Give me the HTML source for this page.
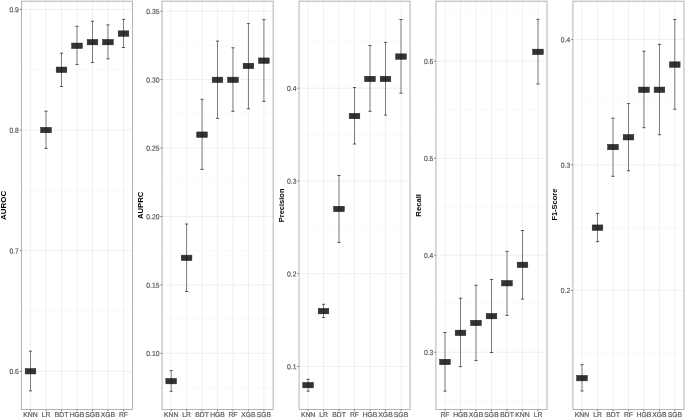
<!DOCTYPE html>
<html><head><meta charset="utf-8"><title>Model metrics</title>
<style>
html,body{margin:0;padding:0;background:#fff;}
body{width:685px;height:418px;overflow:hidden;}
svg{display:block;will-change:transform;}
.lb{text-rendering:geometricPrecision;font-family:"Liberation Sans",sans-serif;font-size:7.3px;fill:#5a5a5a;stroke:#5a5a5a;stroke-width:0.2px;}
.tt{font-family:"Liberation Sans",sans-serif;font-size:7.9px;font-weight:bold;fill:#000;}
</style></head>
<body>
<svg width="685" height="418" viewBox="0 0 685 418">
<rect width="685" height="418" fill="#fff"/>
<g>
<line x1="21.5" y1="310.98" x2="132.5" y2="310.98" stroke="#f2f2f2" stroke-width="0.5"/>
<line x1="21.5" y1="190.35" x2="132.5" y2="190.35" stroke="#f2f2f2" stroke-width="0.5"/>
<line x1="21.5" y1="69.72" x2="132.5" y2="69.72" stroke="#f2f2f2" stroke-width="0.5"/>
<line x1="21.5" y1="371.3" x2="132.5" y2="371.3" stroke="#e9e9e9" stroke-width="0.7"/>
<line x1="21.5" y1="250.67" x2="132.5" y2="250.67" stroke="#e9e9e9" stroke-width="0.7"/>
<line x1="21.5" y1="130.03" x2="132.5" y2="130.03" stroke="#e9e9e9" stroke-width="0.7"/>
<line x1="21.5" y1="9.4" x2="132.5" y2="9.4" stroke="#e9e9e9" stroke-width="0.7"/>
<line x1="30.5" y1="1.2" x2="30.5" y2="409.5" stroke="#e9e9e9" stroke-width="0.7"/>
<line x1="46" y1="1.2" x2="46" y2="409.5" stroke="#e9e9e9" stroke-width="0.7"/>
<line x1="61.5" y1="1.2" x2="61.5" y2="409.5" stroke="#e9e9e9" stroke-width="0.7"/>
<line x1="77" y1="1.2" x2="77" y2="409.5" stroke="#e9e9e9" stroke-width="0.7"/>
<line x1="92.5" y1="1.2" x2="92.5" y2="409.5" stroke="#e9e9e9" stroke-width="0.7"/>
<line x1="107.95" y1="1.2" x2="107.95" y2="409.5" stroke="#e9e9e9" stroke-width="0.7"/>
<line x1="123.5" y1="1.2" x2="123.5" y2="409.5" stroke="#e9e9e9" stroke-width="0.7"/>
<line x1="30.5" y1="351.2" x2="30.5" y2="390.9" stroke="#1a1a1a" stroke-width="0.55"/>
<line x1="28.9" y1="351.2" x2="32.1" y2="351.2" stroke="#1a1a1a" stroke-width="0.7"/>
<line x1="28.9" y1="390.9" x2="32.1" y2="390.9" stroke="#1a1a1a" stroke-width="0.7"/>
<rect x="25.2" y="368.55" width="10.6" height="5.4" fill="#333333" stroke="#1f1f1f" stroke-width="0.5"/>
<line x1="30.5" y1="368.55" x2="30.5" y2="373.95" stroke="#111" stroke-width="0.55"/>
<line x1="46" y1="111.2" x2="46" y2="148.4" stroke="#1a1a1a" stroke-width="0.55"/>
<line x1="44.4" y1="111.2" x2="47.6" y2="111.2" stroke="#1a1a1a" stroke-width="0.7"/>
<line x1="44.4" y1="148.4" x2="47.6" y2="148.4" stroke="#1a1a1a" stroke-width="0.7"/>
<rect x="40.7" y="127.35" width="10.6" height="5.4" fill="#333333" stroke="#1f1f1f" stroke-width="0.5"/>
<line x1="46" y1="127.35" x2="46" y2="132.75" stroke="#111" stroke-width="0.55"/>
<line x1="61.5" y1="53.2" x2="61.5" y2="86.5" stroke="#1a1a1a" stroke-width="0.55"/>
<line x1="59.9" y1="53.2" x2="63.1" y2="53.2" stroke="#1a1a1a" stroke-width="0.7"/>
<line x1="59.9" y1="86.5" x2="63.1" y2="86.5" stroke="#1a1a1a" stroke-width="0.7"/>
<rect x="56.2" y="67.05" width="10.6" height="5.4" fill="#333333" stroke="#1f1f1f" stroke-width="0.5"/>
<line x1="61.5" y1="67.05" x2="61.5" y2="72.45" stroke="#111" stroke-width="0.55"/>
<line x1="77" y1="26.3" x2="77" y2="64.6" stroke="#1a1a1a" stroke-width="0.55"/>
<line x1="75.4" y1="26.3" x2="78.6" y2="26.3" stroke="#1a1a1a" stroke-width="0.7"/>
<line x1="75.4" y1="64.6" x2="78.6" y2="64.6" stroke="#1a1a1a" stroke-width="0.7"/>
<rect x="71.7" y="43.05" width="10.6" height="5.4" fill="#333333" stroke="#1f1f1f" stroke-width="0.5"/>
<line x1="77" y1="43.05" x2="77" y2="48.45" stroke="#111" stroke-width="0.55"/>
<line x1="92.5" y1="21.2" x2="92.5" y2="62.5" stroke="#1a1a1a" stroke-width="0.55"/>
<line x1="90.9" y1="21.2" x2="94.1" y2="21.2" stroke="#1a1a1a" stroke-width="0.7"/>
<line x1="90.9" y1="62.5" x2="94.1" y2="62.5" stroke="#1a1a1a" stroke-width="0.7"/>
<rect x="87.2" y="39.45" width="10.6" height="5.4" fill="#333333" stroke="#1f1f1f" stroke-width="0.5"/>
<line x1="92.5" y1="39.45" x2="92.5" y2="44.85" stroke="#111" stroke-width="0.55"/>
<line x1="107.95" y1="24.9" x2="107.95" y2="58.9" stroke="#1a1a1a" stroke-width="0.55"/>
<line x1="106.35" y1="24.9" x2="109.55" y2="24.9" stroke="#1a1a1a" stroke-width="0.7"/>
<line x1="106.35" y1="58.9" x2="109.55" y2="58.9" stroke="#1a1a1a" stroke-width="0.7"/>
<rect x="102.65" y="39.45" width="10.6" height="5.4" fill="#333333" stroke="#1f1f1f" stroke-width="0.5"/>
<line x1="107.95" y1="39.45" x2="107.95" y2="44.85" stroke="#111" stroke-width="0.55"/>
<line x1="123.5" y1="19.4" x2="123.5" y2="47.5" stroke="#1a1a1a" stroke-width="0.55"/>
<line x1="121.9" y1="19.4" x2="125.1" y2="19.4" stroke="#1a1a1a" stroke-width="0.7"/>
<line x1="121.9" y1="47.5" x2="125.1" y2="47.5" stroke="#1a1a1a" stroke-width="0.7"/>
<rect x="118.2" y="30.85" width="10.6" height="5.4" fill="#333333" stroke="#1f1f1f" stroke-width="0.5"/>
<line x1="123.5" y1="30.85" x2="123.5" y2="36.25" stroke="#111" stroke-width="0.55"/>
<rect x="21.5" y="1.2" width="111" height="408.3" fill="none" stroke="#b3b3b3" stroke-width="1.0"/>
<line x1="19.7" y1="371.3" x2="21.5" y2="371.3" stroke="#555555" stroke-width="0.7"/>
<text transform="translate(18.9 374.1) scale(0.93 1) rotate(0.05)" text-anchor="end" class="lb">0.6</text>
<line x1="19.7" y1="250.67" x2="21.5" y2="250.67" stroke="#555555" stroke-width="0.7"/>
<text transform="translate(18.9 253.47) scale(0.93 1) rotate(0.05)" text-anchor="end" class="lb">0.7</text>
<line x1="19.7" y1="130.03" x2="21.5" y2="130.03" stroke="#555555" stroke-width="0.7"/>
<text transform="translate(18.9 132.83) scale(0.93 1) rotate(0.05)" text-anchor="end" class="lb">0.8</text>
<line x1="19.7" y1="9.4" x2="21.5" y2="9.4" stroke="#555555" stroke-width="0.7"/>
<text transform="translate(18.9 12.2) scale(0.93 1) rotate(0.05)" text-anchor="end" class="lb">0.9</text>
<line x1="30.5" y1="409.5" x2="30.5" y2="411.3" stroke="#555555" stroke-width="0.7"/>
<text transform="translate(30.5 416.9) scale(0.97 1) rotate(0.05)" text-anchor="middle" class="lb" style="font-size:7.0px">KNN</text>
<line x1="46" y1="409.5" x2="46" y2="411.3" stroke="#555555" stroke-width="0.7"/>
<text transform="translate(46 416.9) scale(0.97 1) rotate(0.05)" text-anchor="middle" class="lb" style="font-size:7.0px">LR</text>
<line x1="61.5" y1="409.5" x2="61.5" y2="411.3" stroke="#555555" stroke-width="0.7"/>
<text transform="translate(61.5 416.9) scale(0.97 1) rotate(0.05)" text-anchor="middle" class="lb" style="font-size:7.0px">BDT</text>
<line x1="77" y1="409.5" x2="77" y2="411.3" stroke="#555555" stroke-width="0.7"/>
<text transform="translate(77 416.9) scale(0.97 1) rotate(0.05)" text-anchor="middle" class="lb" style="font-size:7.0px">HGB</text>
<line x1="92.5" y1="409.5" x2="92.5" y2="411.3" stroke="#555555" stroke-width="0.7"/>
<text transform="translate(92.5 416.9) scale(0.97 1) rotate(0.05)" text-anchor="middle" class="lb" style="font-size:7.0px">SGB</text>
<line x1="107.95" y1="409.5" x2="107.95" y2="411.3" stroke="#555555" stroke-width="0.7"/>
<text transform="translate(107.95 416.9) scale(0.97 1) rotate(0.05)" text-anchor="middle" class="lb" style="font-size:7.0px">XGB</text>
<line x1="123.5" y1="409.5" x2="123.5" y2="411.3" stroke="#555555" stroke-width="0.7"/>
<text transform="translate(123.5 416.9) scale(0.97 1) rotate(0.05)" text-anchor="middle" class="lb" style="font-size:7.0px">RF</text>
<text transform="translate(5.8 205.35) rotate(-90)" text-anchor="middle" class="tt" textLength="29.1" lengthAdjust="spacingAndGlyphs">AUROC</text>
<line x1="162.1" y1="387.51" x2="273.2" y2="387.51" stroke="#f2f2f2" stroke-width="0.5"/>
<line x1="162.1" y1="319.09" x2="273.2" y2="319.09" stroke="#f2f2f2" stroke-width="0.5"/>
<line x1="162.1" y1="250.67" x2="273.2" y2="250.67" stroke="#f2f2f2" stroke-width="0.5"/>
<line x1="162.1" y1="182.25" x2="273.2" y2="182.25" stroke="#f2f2f2" stroke-width="0.5"/>
<line x1="162.1" y1="113.83" x2="273.2" y2="113.83" stroke="#f2f2f2" stroke-width="0.5"/>
<line x1="162.1" y1="45.41" x2="273.2" y2="45.41" stroke="#f2f2f2" stroke-width="0.5"/>
<line x1="162.1" y1="353.3" x2="273.2" y2="353.3" stroke="#e9e9e9" stroke-width="0.7"/>
<line x1="162.1" y1="284.88" x2="273.2" y2="284.88" stroke="#e9e9e9" stroke-width="0.7"/>
<line x1="162.1" y1="216.46" x2="273.2" y2="216.46" stroke="#e9e9e9" stroke-width="0.7"/>
<line x1="162.1" y1="148.04" x2="273.2" y2="148.04" stroke="#e9e9e9" stroke-width="0.7"/>
<line x1="162.1" y1="79.62" x2="273.2" y2="79.62" stroke="#e9e9e9" stroke-width="0.7"/>
<line x1="162.1" y1="11.2" x2="273.2" y2="11.2" stroke="#e9e9e9" stroke-width="0.7"/>
<line x1="171.15" y1="1.2" x2="171.15" y2="409.5" stroke="#e9e9e9" stroke-width="0.7"/>
<line x1="186.6" y1="1.2" x2="186.6" y2="409.5" stroke="#e9e9e9" stroke-width="0.7"/>
<line x1="202.05" y1="1.2" x2="202.05" y2="409.5" stroke="#e9e9e9" stroke-width="0.7"/>
<line x1="217.5" y1="1.2" x2="217.5" y2="409.5" stroke="#e9e9e9" stroke-width="0.7"/>
<line x1="232.95" y1="1.2" x2="232.95" y2="409.5" stroke="#e9e9e9" stroke-width="0.7"/>
<line x1="248.45" y1="1.2" x2="248.45" y2="409.5" stroke="#e9e9e9" stroke-width="0.7"/>
<line x1="263.9" y1="1.2" x2="263.9" y2="409.5" stroke="#e9e9e9" stroke-width="0.7"/>
<line x1="171.15" y1="370.6" x2="171.15" y2="391.3" stroke="#1a1a1a" stroke-width="0.55"/>
<line x1="169.55" y1="370.6" x2="172.75" y2="370.6" stroke="#1a1a1a" stroke-width="0.7"/>
<line x1="169.55" y1="391.3" x2="172.75" y2="391.3" stroke="#1a1a1a" stroke-width="0.7"/>
<rect x="165.85" y="378.45" width="10.6" height="5.4" fill="#333333" stroke="#1f1f1f" stroke-width="0.5"/>
<line x1="171.15" y1="378.45" x2="171.15" y2="383.85" stroke="#111" stroke-width="0.55"/>
<line x1="186.6" y1="224" x2="186.6" y2="291.5" stroke="#1a1a1a" stroke-width="0.55"/>
<line x1="185" y1="224" x2="188.2" y2="224" stroke="#1a1a1a" stroke-width="0.7"/>
<line x1="185" y1="291.5" x2="188.2" y2="291.5" stroke="#1a1a1a" stroke-width="0.7"/>
<rect x="181.3" y="255.15" width="10.6" height="5.4" fill="#333333" stroke="#1f1f1f" stroke-width="0.5"/>
<line x1="186.6" y1="255.15" x2="186.6" y2="260.55" stroke="#111" stroke-width="0.55"/>
<line x1="202.05" y1="99.3" x2="202.05" y2="169.4" stroke="#1a1a1a" stroke-width="0.55"/>
<line x1="200.45" y1="99.3" x2="203.65" y2="99.3" stroke="#1a1a1a" stroke-width="0.7"/>
<line x1="200.45" y1="169.4" x2="203.65" y2="169.4" stroke="#1a1a1a" stroke-width="0.7"/>
<rect x="196.75" y="131.95" width="10.6" height="5.4" fill="#333333" stroke="#1f1f1f" stroke-width="0.5"/>
<line x1="202.05" y1="131.95" x2="202.05" y2="137.35" stroke="#111" stroke-width="0.55"/>
<line x1="217.5" y1="41.1" x2="217.5" y2="118.4" stroke="#1a1a1a" stroke-width="0.55"/>
<line x1="215.9" y1="41.1" x2="219.1" y2="41.1" stroke="#1a1a1a" stroke-width="0.7"/>
<line x1="215.9" y1="118.4" x2="219.1" y2="118.4" stroke="#1a1a1a" stroke-width="0.7"/>
<rect x="212.2" y="77.15" width="10.6" height="5.4" fill="#333333" stroke="#1f1f1f" stroke-width="0.5"/>
<line x1="217.5" y1="77.15" x2="217.5" y2="82.55" stroke="#111" stroke-width="0.55"/>
<line x1="232.95" y1="47.8" x2="232.95" y2="111.3" stroke="#1a1a1a" stroke-width="0.55"/>
<line x1="231.35" y1="47.8" x2="234.55" y2="47.8" stroke="#1a1a1a" stroke-width="0.7"/>
<line x1="231.35" y1="111.3" x2="234.55" y2="111.3" stroke="#1a1a1a" stroke-width="0.7"/>
<rect x="227.65" y="77.15" width="10.6" height="5.4" fill="#333333" stroke="#1f1f1f" stroke-width="0.5"/>
<line x1="232.95" y1="77.15" x2="232.95" y2="82.55" stroke="#111" stroke-width="0.55"/>
<line x1="248.45" y1="23.6" x2="248.45" y2="108.8" stroke="#1a1a1a" stroke-width="0.55"/>
<line x1="246.85" y1="23.6" x2="250.05" y2="23.6" stroke="#1a1a1a" stroke-width="0.7"/>
<line x1="246.85" y1="108.8" x2="250.05" y2="108.8" stroke="#1a1a1a" stroke-width="0.7"/>
<rect x="243.15" y="63.25" width="10.6" height="5.4" fill="#333333" stroke="#1f1f1f" stroke-width="0.5"/>
<line x1="248.45" y1="63.25" x2="248.45" y2="68.65" stroke="#111" stroke-width="0.55"/>
<line x1="263.9" y1="19.6" x2="263.9" y2="101.4" stroke="#1a1a1a" stroke-width="0.55"/>
<line x1="262.3" y1="19.6" x2="265.5" y2="19.6" stroke="#1a1a1a" stroke-width="0.7"/>
<line x1="262.3" y1="101.4" x2="265.5" y2="101.4" stroke="#1a1a1a" stroke-width="0.7"/>
<rect x="258.6" y="57.95" width="10.6" height="5.4" fill="#333333" stroke="#1f1f1f" stroke-width="0.5"/>
<line x1="263.9" y1="57.95" x2="263.9" y2="63.35" stroke="#111" stroke-width="0.55"/>
<rect x="162.1" y="1.2" width="111.1" height="408.3" fill="none" stroke="#b3b3b3" stroke-width="1.0"/>
<line x1="160.3" y1="353.3" x2="162.1" y2="353.3" stroke="#555555" stroke-width="0.7"/>
<text transform="translate(159.5 356.1) scale(0.93 1) rotate(0.05)" text-anchor="end" class="lb">0.10</text>
<line x1="160.3" y1="284.88" x2="162.1" y2="284.88" stroke="#555555" stroke-width="0.7"/>
<text transform="translate(159.5 287.68) scale(0.93 1) rotate(0.05)" text-anchor="end" class="lb">0.15</text>
<line x1="160.3" y1="216.46" x2="162.1" y2="216.46" stroke="#555555" stroke-width="0.7"/>
<text transform="translate(159.5 219.26) scale(0.93 1) rotate(0.05)" text-anchor="end" class="lb">0.20</text>
<line x1="160.3" y1="148.04" x2="162.1" y2="148.04" stroke="#555555" stroke-width="0.7"/>
<text transform="translate(159.5 150.84) scale(0.93 1) rotate(0.05)" text-anchor="end" class="lb">0.25</text>
<line x1="160.3" y1="79.62" x2="162.1" y2="79.62" stroke="#555555" stroke-width="0.7"/>
<text transform="translate(159.5 82.42) scale(0.93 1) rotate(0.05)" text-anchor="end" class="lb">0.30</text>
<line x1="160.3" y1="11.2" x2="162.1" y2="11.2" stroke="#555555" stroke-width="0.7"/>
<text transform="translate(159.5 14) scale(0.93 1) rotate(0.05)" text-anchor="end" class="lb">0.35</text>
<line x1="171.15" y1="409.5" x2="171.15" y2="411.3" stroke="#555555" stroke-width="0.7"/>
<text transform="translate(171.15 416.9) scale(0.97 1) rotate(0.05)" text-anchor="middle" class="lb" style="font-size:7.0px">KNN</text>
<line x1="186.6" y1="409.5" x2="186.6" y2="411.3" stroke="#555555" stroke-width="0.7"/>
<text transform="translate(186.6 416.9) scale(0.97 1) rotate(0.05)" text-anchor="middle" class="lb" style="font-size:7.0px">LR</text>
<line x1="202.05" y1="409.5" x2="202.05" y2="411.3" stroke="#555555" stroke-width="0.7"/>
<text transform="translate(202.05 416.9) scale(0.97 1) rotate(0.05)" text-anchor="middle" class="lb" style="font-size:7.0px">BDT</text>
<line x1="217.5" y1="409.5" x2="217.5" y2="411.3" stroke="#555555" stroke-width="0.7"/>
<text transform="translate(217.5 416.9) scale(0.97 1) rotate(0.05)" text-anchor="middle" class="lb" style="font-size:7.0px">HGB</text>
<line x1="232.95" y1="409.5" x2="232.95" y2="411.3" stroke="#555555" stroke-width="0.7"/>
<text transform="translate(232.95 416.9) scale(0.97 1) rotate(0.05)" text-anchor="middle" class="lb" style="font-size:7.0px">RF</text>
<line x1="248.45" y1="409.5" x2="248.45" y2="411.3" stroke="#555555" stroke-width="0.7"/>
<text transform="translate(248.45 416.9) scale(0.97 1) rotate(0.05)" text-anchor="middle" class="lb" style="font-size:7.0px">XGB</text>
<line x1="263.9" y1="409.5" x2="263.9" y2="411.3" stroke="#555555" stroke-width="0.7"/>
<text transform="translate(263.9 416.9) scale(0.97 1) rotate(0.05)" text-anchor="middle" class="lb" style="font-size:7.0px">SGB</text>
<text transform="translate(143.4 205.35) rotate(-90)" text-anchor="middle" class="tt" textLength="27.4" lengthAdjust="spacingAndGlyphs">AUPRC</text>
<line x1="299.07" y1="320.12" x2="410.06" y2="320.12" stroke="#f2f2f2" stroke-width="0.5"/>
<line x1="299.07" y1="227.35" x2="410.06" y2="227.35" stroke="#f2f2f2" stroke-width="0.5"/>
<line x1="299.07" y1="134.58" x2="410.06" y2="134.58" stroke="#f2f2f2" stroke-width="0.5"/>
<line x1="299.07" y1="41.82" x2="410.06" y2="41.82" stroke="#f2f2f2" stroke-width="0.5"/>
<line x1="299.07" y1="366.5" x2="410.06" y2="366.5" stroke="#e9e9e9" stroke-width="0.7"/>
<line x1="299.07" y1="273.73" x2="410.06" y2="273.73" stroke="#e9e9e9" stroke-width="0.7"/>
<line x1="299.07" y1="180.97" x2="410.06" y2="180.97" stroke="#e9e9e9" stroke-width="0.7"/>
<line x1="299.07" y1="88.2" x2="410.06" y2="88.2" stroke="#e9e9e9" stroke-width="0.7"/>
<line x1="308.1" y1="1.2" x2="308.1" y2="409.5" stroke="#e9e9e9" stroke-width="0.7"/>
<line x1="323.5" y1="1.2" x2="323.5" y2="409.5" stroke="#e9e9e9" stroke-width="0.7"/>
<line x1="339" y1="1.2" x2="339" y2="409.5" stroke="#e9e9e9" stroke-width="0.7"/>
<line x1="354.5" y1="1.2" x2="354.5" y2="409.5" stroke="#e9e9e9" stroke-width="0.7"/>
<line x1="370" y1="1.2" x2="370" y2="409.5" stroke="#e9e9e9" stroke-width="0.7"/>
<line x1="385.5" y1="1.2" x2="385.5" y2="409.5" stroke="#e9e9e9" stroke-width="0.7"/>
<line x1="401" y1="1.2" x2="401" y2="409.5" stroke="#e9e9e9" stroke-width="0.7"/>
<line x1="308.1" y1="379.3" x2="308.1" y2="391.2" stroke="#1a1a1a" stroke-width="0.55"/>
<line x1="306.5" y1="379.3" x2="309.7" y2="379.3" stroke="#1a1a1a" stroke-width="0.7"/>
<line x1="306.5" y1="391.2" x2="309.7" y2="391.2" stroke="#1a1a1a" stroke-width="0.7"/>
<rect x="302.8" y="382.45" width="10.6" height="5.4" fill="#333333" stroke="#1f1f1f" stroke-width="0.5"/>
<line x1="308.1" y1="382.45" x2="308.1" y2="387.85" stroke="#111" stroke-width="0.55"/>
<line x1="323.5" y1="304.3" x2="323.5" y2="317.5" stroke="#1a1a1a" stroke-width="0.55"/>
<line x1="321.9" y1="304.3" x2="325.1" y2="304.3" stroke="#1a1a1a" stroke-width="0.7"/>
<line x1="321.9" y1="317.5" x2="325.1" y2="317.5" stroke="#1a1a1a" stroke-width="0.7"/>
<rect x="318.2" y="308.45" width="10.6" height="5.4" fill="#333333" stroke="#1f1f1f" stroke-width="0.5"/>
<line x1="323.5" y1="308.45" x2="323.5" y2="313.85" stroke="#111" stroke-width="0.55"/>
<line x1="339" y1="175.5" x2="339" y2="242.5" stroke="#1a1a1a" stroke-width="0.55"/>
<line x1="337.4" y1="175.5" x2="340.6" y2="175.5" stroke="#1a1a1a" stroke-width="0.7"/>
<line x1="337.4" y1="242.5" x2="340.6" y2="242.5" stroke="#1a1a1a" stroke-width="0.7"/>
<rect x="333.7" y="206.25" width="10.6" height="5.4" fill="#333333" stroke="#1f1f1f" stroke-width="0.5"/>
<line x1="339" y1="206.25" x2="339" y2="211.65" stroke="#111" stroke-width="0.55"/>
<line x1="354.5" y1="87.5" x2="354.5" y2="144" stroke="#1a1a1a" stroke-width="0.55"/>
<line x1="352.9" y1="87.5" x2="356.1" y2="87.5" stroke="#1a1a1a" stroke-width="0.7"/>
<line x1="352.9" y1="144" x2="356.1" y2="144" stroke="#1a1a1a" stroke-width="0.7"/>
<rect x="349.2" y="113.35" width="10.6" height="5.4" fill="#333333" stroke="#1f1f1f" stroke-width="0.5"/>
<line x1="354.5" y1="113.35" x2="354.5" y2="118.75" stroke="#111" stroke-width="0.55"/>
<line x1="370" y1="45.6" x2="370" y2="111.3" stroke="#1a1a1a" stroke-width="0.55"/>
<line x1="368.4" y1="45.6" x2="371.6" y2="45.6" stroke="#1a1a1a" stroke-width="0.7"/>
<line x1="368.4" y1="111.3" x2="371.6" y2="111.3" stroke="#1a1a1a" stroke-width="0.7"/>
<rect x="364.7" y="76.25" width="10.6" height="5.4" fill="#333333" stroke="#1f1f1f" stroke-width="0.5"/>
<line x1="370" y1="76.25" x2="370" y2="81.65" stroke="#111" stroke-width="0.55"/>
<line x1="385.5" y1="42.4" x2="385.5" y2="115" stroke="#1a1a1a" stroke-width="0.55"/>
<line x1="383.9" y1="42.4" x2="387.1" y2="42.4" stroke="#1a1a1a" stroke-width="0.7"/>
<line x1="383.9" y1="115" x2="387.1" y2="115" stroke="#1a1a1a" stroke-width="0.7"/>
<rect x="380.2" y="76.25" width="10.6" height="5.4" fill="#333333" stroke="#1f1f1f" stroke-width="0.5"/>
<line x1="385.5" y1="76.25" x2="385.5" y2="81.65" stroke="#111" stroke-width="0.55"/>
<line x1="401" y1="19.5" x2="401" y2="93.2" stroke="#1a1a1a" stroke-width="0.55"/>
<line x1="399.4" y1="19.5" x2="402.6" y2="19.5" stroke="#1a1a1a" stroke-width="0.7"/>
<line x1="399.4" y1="93.2" x2="402.6" y2="93.2" stroke="#1a1a1a" stroke-width="0.7"/>
<rect x="395.7" y="53.85" width="10.6" height="5.4" fill="#333333" stroke="#1f1f1f" stroke-width="0.5"/>
<line x1="401" y1="53.85" x2="401" y2="59.25" stroke="#111" stroke-width="0.55"/>
<rect x="299.07" y="1.2" width="110.99" height="408.3" fill="none" stroke="#b3b3b3" stroke-width="1.0"/>
<line x1="297.27" y1="366.5" x2="299.07" y2="366.5" stroke="#555555" stroke-width="0.7"/>
<text transform="translate(296.47 369.3) scale(0.93 1) rotate(0.05)" text-anchor="end" class="lb">0.1</text>
<line x1="297.27" y1="273.73" x2="299.07" y2="273.73" stroke="#555555" stroke-width="0.7"/>
<text transform="translate(296.47 276.53) scale(0.93 1) rotate(0.05)" text-anchor="end" class="lb">0.2</text>
<line x1="297.27" y1="180.97" x2="299.07" y2="180.97" stroke="#555555" stroke-width="0.7"/>
<text transform="translate(296.47 183.77) scale(0.93 1) rotate(0.05)" text-anchor="end" class="lb">0.3</text>
<line x1="297.27" y1="88.2" x2="299.07" y2="88.2" stroke="#555555" stroke-width="0.7"/>
<text transform="translate(296.47 91) scale(0.93 1) rotate(0.05)" text-anchor="end" class="lb">0.4</text>
<line x1="308.1" y1="409.5" x2="308.1" y2="411.3" stroke="#555555" stroke-width="0.7"/>
<text transform="translate(308.1 416.9) scale(0.97 1) rotate(0.05)" text-anchor="middle" class="lb" style="font-size:7.0px">KNN</text>
<line x1="323.5" y1="409.5" x2="323.5" y2="411.3" stroke="#555555" stroke-width="0.7"/>
<text transform="translate(323.5 416.9) scale(0.97 1) rotate(0.05)" text-anchor="middle" class="lb" style="font-size:7.0px">LR</text>
<line x1="339" y1="409.5" x2="339" y2="411.3" stroke="#555555" stroke-width="0.7"/>
<text transform="translate(339 416.9) scale(0.97 1) rotate(0.05)" text-anchor="middle" class="lb" style="font-size:7.0px">BDT</text>
<line x1="354.5" y1="409.5" x2="354.5" y2="411.3" stroke="#555555" stroke-width="0.7"/>
<text transform="translate(354.5 416.9) scale(0.97 1) rotate(0.05)" text-anchor="middle" class="lb" style="font-size:7.0px">RF</text>
<line x1="370" y1="409.5" x2="370" y2="411.3" stroke="#555555" stroke-width="0.7"/>
<text transform="translate(370 416.9) scale(0.97 1) rotate(0.05)" text-anchor="middle" class="lb" style="font-size:7.0px">HGB</text>
<line x1="385.5" y1="409.5" x2="385.5" y2="411.3" stroke="#555555" stroke-width="0.7"/>
<text transform="translate(385.5 416.9) scale(0.97 1) rotate(0.05)" text-anchor="middle" class="lb" style="font-size:7.0px">XGB</text>
<line x1="401" y1="409.5" x2="401" y2="411.3" stroke="#555555" stroke-width="0.7"/>
<text transform="translate(401 416.9) scale(0.97 1) rotate(0.05)" text-anchor="middle" class="lb" style="font-size:7.0px">SGB</text>
<text transform="translate(284 205.35) rotate(-90)" text-anchor="middle" class="tt" textLength="33.7" lengthAdjust="spacingAndGlyphs">Precision</text>
<line x1="435.93" y1="400.68" x2="547.02" y2="400.68" stroke="#f2f2f2" stroke-width="0.5"/>
<line x1="435.93" y1="303.72" x2="547.02" y2="303.72" stroke="#f2f2f2" stroke-width="0.5"/>
<line x1="435.93" y1="206.75" x2="547.02" y2="206.75" stroke="#f2f2f2" stroke-width="0.5"/>
<line x1="435.93" y1="109.78" x2="547.02" y2="109.78" stroke="#f2f2f2" stroke-width="0.5"/>
<line x1="435.93" y1="12.82" x2="547.02" y2="12.82" stroke="#f2f2f2" stroke-width="0.5"/>
<line x1="435.93" y1="352.2" x2="547.02" y2="352.2" stroke="#e9e9e9" stroke-width="0.7"/>
<line x1="435.93" y1="255.23" x2="547.02" y2="255.23" stroke="#e9e9e9" stroke-width="0.7"/>
<line x1="435.93" y1="158.27" x2="547.02" y2="158.27" stroke="#e9e9e9" stroke-width="0.7"/>
<line x1="435.93" y1="61.3" x2="547.02" y2="61.3" stroke="#e9e9e9" stroke-width="0.7"/>
<line x1="445" y1="1.2" x2="445" y2="409.5" stroke="#e9e9e9" stroke-width="0.7"/>
<line x1="460.5" y1="1.2" x2="460.5" y2="409.5" stroke="#e9e9e9" stroke-width="0.7"/>
<line x1="476" y1="1.2" x2="476" y2="409.5" stroke="#e9e9e9" stroke-width="0.7"/>
<line x1="491.5" y1="1.2" x2="491.5" y2="409.5" stroke="#e9e9e9" stroke-width="0.7"/>
<line x1="507" y1="1.2" x2="507" y2="409.5" stroke="#e9e9e9" stroke-width="0.7"/>
<line x1="522.5" y1="1.2" x2="522.5" y2="409.5" stroke="#e9e9e9" stroke-width="0.7"/>
<line x1="538" y1="1.2" x2="538" y2="409.5" stroke="#e9e9e9" stroke-width="0.7"/>
<line x1="445" y1="332.5" x2="445" y2="391.1" stroke="#1a1a1a" stroke-width="0.55"/>
<line x1="443.4" y1="332.5" x2="446.6" y2="332.5" stroke="#1a1a1a" stroke-width="0.7"/>
<line x1="443.4" y1="391.1" x2="446.6" y2="391.1" stroke="#1a1a1a" stroke-width="0.7"/>
<rect x="439.7" y="359.25" width="10.6" height="5.4" fill="#333333" stroke="#1f1f1f" stroke-width="0.5"/>
<line x1="445" y1="359.25" x2="445" y2="364.65" stroke="#111" stroke-width="0.55"/>
<line x1="460.5" y1="298.2" x2="460.5" y2="366.6" stroke="#1a1a1a" stroke-width="0.55"/>
<line x1="458.9" y1="298.2" x2="462.1" y2="298.2" stroke="#1a1a1a" stroke-width="0.7"/>
<line x1="458.9" y1="366.6" x2="462.1" y2="366.6" stroke="#1a1a1a" stroke-width="0.7"/>
<rect x="455.2" y="330.15" width="10.6" height="5.4" fill="#333333" stroke="#1f1f1f" stroke-width="0.5"/>
<line x1="460.5" y1="330.15" x2="460.5" y2="335.55" stroke="#111" stroke-width="0.55"/>
<line x1="476" y1="285.2" x2="476" y2="360.6" stroke="#1a1a1a" stroke-width="0.55"/>
<line x1="474.4" y1="285.2" x2="477.6" y2="285.2" stroke="#1a1a1a" stroke-width="0.7"/>
<line x1="474.4" y1="360.6" x2="477.6" y2="360.6" stroke="#1a1a1a" stroke-width="0.7"/>
<rect x="470.7" y="320.25" width="10.6" height="5.4" fill="#333333" stroke="#1f1f1f" stroke-width="0.5"/>
<line x1="476" y1="320.25" x2="476" y2="325.65" stroke="#111" stroke-width="0.55"/>
<line x1="491.5" y1="279.5" x2="491.5" y2="352.5" stroke="#1a1a1a" stroke-width="0.55"/>
<line x1="489.9" y1="279.5" x2="493.1" y2="279.5" stroke="#1a1a1a" stroke-width="0.7"/>
<line x1="489.9" y1="352.5" x2="493.1" y2="352.5" stroke="#1a1a1a" stroke-width="0.7"/>
<rect x="486.2" y="313.45" width="10.6" height="5.4" fill="#333333" stroke="#1f1f1f" stroke-width="0.5"/>
<line x1="491.5" y1="313.45" x2="491.5" y2="318.85" stroke="#111" stroke-width="0.55"/>
<line x1="507" y1="251.3" x2="507" y2="315.4" stroke="#1a1a1a" stroke-width="0.55"/>
<line x1="505.4" y1="251.3" x2="508.6" y2="251.3" stroke="#1a1a1a" stroke-width="0.7"/>
<line x1="505.4" y1="315.4" x2="508.6" y2="315.4" stroke="#1a1a1a" stroke-width="0.7"/>
<rect x="501.7" y="280.55" width="10.6" height="5.4" fill="#333333" stroke="#1f1f1f" stroke-width="0.5"/>
<line x1="507" y1="280.55" x2="507" y2="285.95" stroke="#111" stroke-width="0.55"/>
<line x1="522.5" y1="230.5" x2="522.5" y2="299.1" stroke="#1a1a1a" stroke-width="0.55"/>
<line x1="520.9" y1="230.5" x2="524.1" y2="230.5" stroke="#1a1a1a" stroke-width="0.7"/>
<line x1="520.9" y1="299.1" x2="524.1" y2="299.1" stroke="#1a1a1a" stroke-width="0.7"/>
<rect x="517.2" y="262.15" width="10.6" height="5.4" fill="#333333" stroke="#1f1f1f" stroke-width="0.5"/>
<line x1="522.5" y1="262.15" x2="522.5" y2="267.55" stroke="#111" stroke-width="0.55"/>
<line x1="538" y1="19.35" x2="538" y2="84.05" stroke="#1a1a1a" stroke-width="0.55"/>
<line x1="536.4" y1="19.35" x2="539.6" y2="19.35" stroke="#1a1a1a" stroke-width="0.7"/>
<line x1="536.4" y1="84.05" x2="539.6" y2="84.05" stroke="#1a1a1a" stroke-width="0.7"/>
<rect x="532.7" y="49.15" width="10.6" height="5.4" fill="#333333" stroke="#1f1f1f" stroke-width="0.5"/>
<line x1="538" y1="49.15" x2="538" y2="54.55" stroke="#111" stroke-width="0.55"/>
<rect x="435.93" y="1.2" width="111.09" height="408.3" fill="none" stroke="#b3b3b3" stroke-width="1.0"/>
<line x1="434.13" y1="352.2" x2="435.93" y2="352.2" stroke="#555555" stroke-width="0.7"/>
<text transform="translate(433.33 355) scale(0.93 1) rotate(0.05)" text-anchor="end" class="lb">0.3</text>
<line x1="434.13" y1="255.23" x2="435.93" y2="255.23" stroke="#555555" stroke-width="0.7"/>
<text transform="translate(433.33 258.03) scale(0.93 1) rotate(0.05)" text-anchor="end" class="lb">0.4</text>
<line x1="434.13" y1="158.27" x2="435.93" y2="158.27" stroke="#555555" stroke-width="0.7"/>
<text transform="translate(433.33 161.07) scale(0.93 1) rotate(0.05)" text-anchor="end" class="lb">0.5</text>
<line x1="434.13" y1="61.3" x2="435.93" y2="61.3" stroke="#555555" stroke-width="0.7"/>
<text transform="translate(433.33 64.1) scale(0.93 1) rotate(0.05)" text-anchor="end" class="lb">0.6</text>
<line x1="445" y1="409.5" x2="445" y2="411.3" stroke="#555555" stroke-width="0.7"/>
<text transform="translate(445 416.9) scale(0.97 1) rotate(0.05)" text-anchor="middle" class="lb" style="font-size:7.0px">RF</text>
<line x1="460.5" y1="409.5" x2="460.5" y2="411.3" stroke="#555555" stroke-width="0.7"/>
<text transform="translate(460.5 416.9) scale(0.97 1) rotate(0.05)" text-anchor="middle" class="lb" style="font-size:7.0px">HGB</text>
<line x1="476" y1="409.5" x2="476" y2="411.3" stroke="#555555" stroke-width="0.7"/>
<text transform="translate(476 416.9) scale(0.97 1) rotate(0.05)" text-anchor="middle" class="lb" style="font-size:7.0px">XGB</text>
<line x1="491.5" y1="409.5" x2="491.5" y2="411.3" stroke="#555555" stroke-width="0.7"/>
<text transform="translate(491.5 416.9) scale(0.97 1) rotate(0.05)" text-anchor="middle" class="lb" style="font-size:7.0px">SGB</text>
<line x1="507" y1="409.5" x2="507" y2="411.3" stroke="#555555" stroke-width="0.7"/>
<text transform="translate(507 416.9) scale(0.97 1) rotate(0.05)" text-anchor="middle" class="lb" style="font-size:7.0px">BDT</text>
<line x1="522.5" y1="409.5" x2="522.5" y2="411.3" stroke="#555555" stroke-width="0.7"/>
<text transform="translate(522.5 416.9) scale(0.97 1) rotate(0.05)" text-anchor="middle" class="lb" style="font-size:7.0px">KNN</text>
<line x1="538" y1="409.5" x2="538" y2="411.3" stroke="#555555" stroke-width="0.7"/>
<text transform="translate(538 416.9) scale(0.97 1) rotate(0.05)" text-anchor="middle" class="lb" style="font-size:7.0px">LR</text>
<text transform="translate(420.5 205.35) rotate(-90)" text-anchor="middle" class="tt" textLength="22.6" lengthAdjust="spacingAndGlyphs">Recall</text>
<line x1="572.9" y1="353.02" x2="683.95" y2="353.02" stroke="#f2f2f2" stroke-width="0.5"/>
<line x1="572.9" y1="227.58" x2="683.95" y2="227.58" stroke="#f2f2f2" stroke-width="0.5"/>
<line x1="572.9" y1="102.13" x2="683.95" y2="102.13" stroke="#f2f2f2" stroke-width="0.5"/>
<line x1="572.9" y1="290.3" x2="683.95" y2="290.3" stroke="#e9e9e9" stroke-width="0.7"/>
<line x1="572.9" y1="164.85" x2="683.95" y2="164.85" stroke="#e9e9e9" stroke-width="0.7"/>
<line x1="572.9" y1="39.4" x2="683.95" y2="39.4" stroke="#e9e9e9" stroke-width="0.7"/>
<line x1="582" y1="1.2" x2="582" y2="409.5" stroke="#e9e9e9" stroke-width="0.7"/>
<line x1="597.5" y1="1.2" x2="597.5" y2="409.5" stroke="#e9e9e9" stroke-width="0.7"/>
<line x1="613" y1="1.2" x2="613" y2="409.5" stroke="#e9e9e9" stroke-width="0.7"/>
<line x1="628.5" y1="1.2" x2="628.5" y2="409.5" stroke="#e9e9e9" stroke-width="0.7"/>
<line x1="643.95" y1="1.2" x2="643.95" y2="409.5" stroke="#e9e9e9" stroke-width="0.7"/>
<line x1="659.45" y1="1.2" x2="659.45" y2="409.5" stroke="#e9e9e9" stroke-width="0.7"/>
<line x1="674.8" y1="1.2" x2="674.8" y2="409.5" stroke="#e9e9e9" stroke-width="0.7"/>
<line x1="582" y1="364.7" x2="582" y2="391" stroke="#1a1a1a" stroke-width="0.55"/>
<line x1="580.4" y1="364.7" x2="583.6" y2="364.7" stroke="#1a1a1a" stroke-width="0.7"/>
<line x1="580.4" y1="391" x2="583.6" y2="391" stroke="#1a1a1a" stroke-width="0.7"/>
<rect x="576.7" y="375.45" width="10.6" height="5.4" fill="#333333" stroke="#1f1f1f" stroke-width="0.5"/>
<line x1="582" y1="375.45" x2="582" y2="380.85" stroke="#111" stroke-width="0.55"/>
<line x1="597.5" y1="213.4" x2="597.5" y2="241.6" stroke="#1a1a1a" stroke-width="0.55"/>
<line x1="595.9" y1="213.4" x2="599.1" y2="213.4" stroke="#1a1a1a" stroke-width="0.7"/>
<line x1="595.9" y1="241.6" x2="599.1" y2="241.6" stroke="#1a1a1a" stroke-width="0.7"/>
<rect x="592.2" y="224.95" width="10.6" height="5.4" fill="#333333" stroke="#1f1f1f" stroke-width="0.5"/>
<line x1="597.5" y1="224.95" x2="597.5" y2="230.35" stroke="#111" stroke-width="0.55"/>
<line x1="613" y1="118.2" x2="613" y2="176.3" stroke="#1a1a1a" stroke-width="0.55"/>
<line x1="611.4" y1="118.2" x2="614.6" y2="118.2" stroke="#1a1a1a" stroke-width="0.7"/>
<line x1="611.4" y1="176.3" x2="614.6" y2="176.3" stroke="#1a1a1a" stroke-width="0.7"/>
<rect x="607.7" y="144.35" width="10.6" height="5.4" fill="#333333" stroke="#1f1f1f" stroke-width="0.5"/>
<line x1="613" y1="144.35" x2="613" y2="149.75" stroke="#111" stroke-width="0.55"/>
<line x1="628.5" y1="103.6" x2="628.5" y2="170.8" stroke="#1a1a1a" stroke-width="0.55"/>
<line x1="626.9" y1="103.6" x2="630.1" y2="103.6" stroke="#1a1a1a" stroke-width="0.7"/>
<line x1="626.9" y1="170.8" x2="630.1" y2="170.8" stroke="#1a1a1a" stroke-width="0.7"/>
<rect x="623.2" y="134.55" width="10.6" height="5.4" fill="#333333" stroke="#1f1f1f" stroke-width="0.5"/>
<line x1="628.5" y1="134.55" x2="628.5" y2="139.95" stroke="#111" stroke-width="0.55"/>
<line x1="643.95" y1="51.2" x2="643.95" y2="127.7" stroke="#1a1a1a" stroke-width="0.55"/>
<line x1="642.35" y1="51.2" x2="645.55" y2="51.2" stroke="#1a1a1a" stroke-width="0.7"/>
<line x1="642.35" y1="127.7" x2="645.55" y2="127.7" stroke="#1a1a1a" stroke-width="0.7"/>
<rect x="638.65" y="87.05" width="10.6" height="5.4" fill="#333333" stroke="#1f1f1f" stroke-width="0.5"/>
<line x1="643.95" y1="87.05" x2="643.95" y2="92.45" stroke="#111" stroke-width="0.55"/>
<line x1="659.45" y1="44.3" x2="659.45" y2="134.7" stroke="#1a1a1a" stroke-width="0.55"/>
<line x1="657.85" y1="44.3" x2="661.05" y2="44.3" stroke="#1a1a1a" stroke-width="0.7"/>
<line x1="657.85" y1="134.7" x2="661.05" y2="134.7" stroke="#1a1a1a" stroke-width="0.7"/>
<rect x="654.15" y="87.05" width="10.6" height="5.4" fill="#333333" stroke="#1f1f1f" stroke-width="0.5"/>
<line x1="659.45" y1="87.05" x2="659.45" y2="92.45" stroke="#111" stroke-width="0.55"/>
<line x1="674.8" y1="19.5" x2="674.8" y2="109.3" stroke="#1a1a1a" stroke-width="0.55"/>
<line x1="673.2" y1="19.5" x2="676.4" y2="19.5" stroke="#1a1a1a" stroke-width="0.7"/>
<line x1="673.2" y1="109.3" x2="676.4" y2="109.3" stroke="#1a1a1a" stroke-width="0.7"/>
<rect x="669.5" y="61.85" width="10.6" height="5.4" fill="#333333" stroke="#1f1f1f" stroke-width="0.5"/>
<line x1="674.8" y1="61.85" x2="674.8" y2="67.25" stroke="#111" stroke-width="0.55"/>
<rect x="572.9" y="1.2" width="111.05" height="408.3" fill="none" stroke="#b3b3b3" stroke-width="1.0"/>
<line x1="571.1" y1="290.3" x2="572.9" y2="290.3" stroke="#555555" stroke-width="0.7"/>
<text transform="translate(570.3 293.1) scale(0.93 1) rotate(0.05)" text-anchor="end" class="lb">0.2</text>
<line x1="571.1" y1="164.85" x2="572.9" y2="164.85" stroke="#555555" stroke-width="0.7"/>
<text transform="translate(570.3 167.65) scale(0.93 1) rotate(0.05)" text-anchor="end" class="lb">0.3</text>
<line x1="571.1" y1="39.4" x2="572.9" y2="39.4" stroke="#555555" stroke-width="0.7"/>
<text transform="translate(570.3 42.2) scale(0.93 1) rotate(0.05)" text-anchor="end" class="lb">0.4</text>
<line x1="582" y1="409.5" x2="582" y2="411.3" stroke="#555555" stroke-width="0.7"/>
<text transform="translate(582 416.9) scale(0.97 1) rotate(0.05)" text-anchor="middle" class="lb" style="font-size:7.0px">KNN</text>
<line x1="597.5" y1="409.5" x2="597.5" y2="411.3" stroke="#555555" stroke-width="0.7"/>
<text transform="translate(597.5 416.9) scale(0.97 1) rotate(0.05)" text-anchor="middle" class="lb" style="font-size:7.0px">LR</text>
<line x1="613" y1="409.5" x2="613" y2="411.3" stroke="#555555" stroke-width="0.7"/>
<text transform="translate(613 416.9) scale(0.97 1) rotate(0.05)" text-anchor="middle" class="lb" style="font-size:7.0px">BDT</text>
<line x1="628.5" y1="409.5" x2="628.5" y2="411.3" stroke="#555555" stroke-width="0.7"/>
<text transform="translate(628.5 416.9) scale(0.97 1) rotate(0.05)" text-anchor="middle" class="lb" style="font-size:7.0px">RF</text>
<line x1="643.95" y1="409.5" x2="643.95" y2="411.3" stroke="#555555" stroke-width="0.7"/>
<text transform="translate(643.95 416.9) scale(0.97 1) rotate(0.05)" text-anchor="middle" class="lb" style="font-size:7.0px">HGB</text>
<line x1="659.45" y1="409.5" x2="659.45" y2="411.3" stroke="#555555" stroke-width="0.7"/>
<text transform="translate(659.45 416.9) scale(0.97 1) rotate(0.05)" text-anchor="middle" class="lb" style="font-size:7.0px">XGB</text>
<line x1="674.8" y1="409.5" x2="674.8" y2="411.3" stroke="#555555" stroke-width="0.7"/>
<text transform="translate(674.8 416.9) scale(0.97 1) rotate(0.05)" text-anchor="middle" class="lb" style="font-size:7.0px">SGB</text>
<text transform="translate(557.3 204.65) rotate(-90)" text-anchor="middle" class="tt" textLength="31.9" lengthAdjust="spacingAndGlyphs">F1-Score</text>
</g>
</svg>
</body></html>
